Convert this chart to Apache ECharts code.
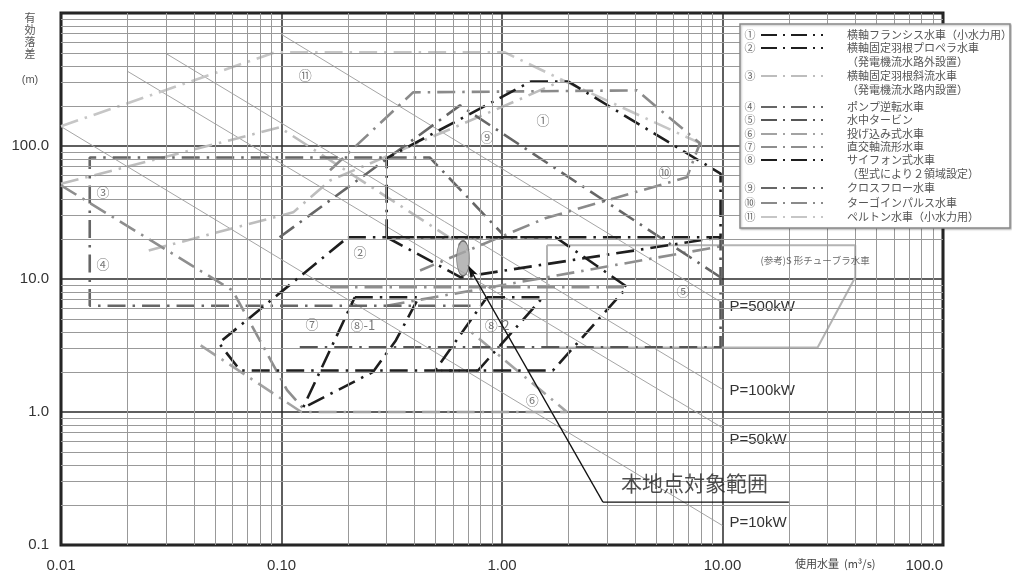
<!DOCTYPE html>
<html>
<head>
<meta charset="utf-8">
<script src="https://cdn.jsdelivr.net/npm/echarts@6/dist/echarts.min.js"></script>
<style>
html, body { margin: 0; padding: 0; background: #fff; }
#chart { width: 1012px; height: 572px; }
</style>
</head>
<body>
<div id="chart"></div>
<script>
// 目盛りラベル
const xTickLabels = ['0.01', '0.10', '1.00', '10.00', '100.0']
const yTickLabels = ['0.1', '1.0', '10.0', '100.0', '']
const minorSteps = [2, 3, 4, 5, 6, 7, 8, 9]
const xDecades = [0.01, 0.1, 1, 10]
const yDecades = [0.1, 1, 10, 100]

// 各水車の適用範囲 [Q (m3/s), H (m)]
const francis = [[0.3, 20.6], [0.3, 81], [1.35, 305], [2, 305], [9.8, 62], [9.8, 20.6], [0.3, 20.6]]
const francisLow = [[0.3, 20.6], [0.65, 10.3], [9.8, 20.6]]
const propeller = [[0.2, 20.6], [1.75, 20.6], [3.7, 8.7], [1.7, 2.05], [0.065, 2.05], [0.052, 3.3], [0.2, 20.6]]
const diagonalUpper = [[0.01, 52], [0.098, 138], [0.71, 16.4]]
const diagonalLower = [[0.025, 16.4], [0.113, 31.7], [0.166, 55], [1.17, 220], [1.89, 312]]
const pumpReverse = [[0.72, 6.3], [0.0135, 6.3], [0.0135, 82], [0.47, 82], [1.0, 22]]
const submersible = [[0.121, 3.07], [9.8, 3.07], [9.8, 20.6]]
const dropIn = [[0.043, 3.17], [0.123, 1.0], [1.97, 1.0], [0.71, 4.1]]
const orthoAxial = [[0.01, 50.6], [0.06, 8.2], [0.106, 1.46], [0.125, 1.07]]
const orthoAxialTop = [[0.3, 6.3], [9.8, 17.6]]
const orthoAxialMid = [[0.166, 8.66], [3.69, 8.66]]
const siphon1 = [[0.215, 7.3], [0.42, 7.3], [0.33, 3.45], [0.26, 2.0], [0.125, 1.07], [0.215, 7.3]]
const siphon2 = [[0.855, 7.3], [1.535, 7.3], [0.778, 2.05], [0.497, 2.05], [0.855, 7.3]]
const crossFlow = [[0.098, 20.6], [0.645, 202], [9.8, 10.3]]
const turgo = [[0.166, 65.7], [0.395, 253], [4.09, 262], [7.9, 105], [6.9, 58.2], [1.57, 28.6], [0.425, 11.6]]
const pelton = [[0.01, 141], [0.0934, 506], [1.03, 506], [1.89, 312], [7.9, 105]]
const sTubular = [[1.6, 17.9], [40, 17.9], [40, 10.3], [27, 3.05], [1.6, 3.05], [1.6, 17.9]]

// 出力線
const powerNames = ['P=500kW', 'P=100kW', 'P=50kW', 'P=10kW']
const p500kW = [[0.1, 690], [10, 6.6]]
const p100kW = [[0.03, 495], [10, 1.48]]
const p50kW = [[0.02, 365], [10, 0.76]]
const p10kW = [[0.01, 140], [10, 0.14]]

// 図中の番号
const markNames = ['⑪', '①', '⑨', '⑩', '③', '④', '②', '⑦', '⑧-1', '⑧-2', '⑤', '⑥']
const markQ = [0.128, 1.535, 0.855, 5.48, 0.0155, 0.0155, 0.227, 0.1375, 0.234, 0.95, 6.62, 1.37]
const markH = [340, 156, 116, 63.4, 44.9, 12.9, 15.9, 4.56, 4.5, 4.5, 8.08, 1.22]

// 本地点
const siteRange = [[0.666, 14.3]]
const leaderLine = [[20, 0.21], [2.87, 0.21]]
const arrowTip = [0.70, 12.7]
const siteLabelAt = [7.47, 0.29]
const tubularLabelAt = [26.3, 13.8]

const legendRows = [
  ['①', '横軸フランシス水車（小水力用）'],
  ['②', '横軸固定羽根プロペラ水車'],
  ['', '（発電機流水路外設置）'],
  ['③', '横軸固定羽根斜流水車'],
  ['', '（発電機流水路内設置）'],
  ['④', 'ポンプ逆転水車'],
  ['⑤', '水中タービン'],
  ['⑥', '投げ込み式水車'],
  ['⑦', '直交軸流形水車'],
  ['⑧', 'サイフォン式水車'],
  ['', '（型式により２領域設定）'],
  ['⑨', 'クロスフロー水車'],
  ['⑩', 'ターゴインパルス水車'],
  ['⑪', 'ペルトン水車（小水力用）']
]
const legendRowY = [35, 48, 62, 76, 90, 107, 120, 134, 147, 160, 174, 188, 203, 217]

const regionColor = {
  '①': '#1e1e1e', '②': '#1e1e1e', '③': '#bdbdbd', '④': '#666', '⑤': '#555', '⑥': '#a3a3a3',
  '⑦': '#8e8e8e', '⑧': '#1e1e1e', '⑨': '#666', '⑩': '#8a8a8a', '⑪': '#c6c6c6'
}
const regions = [
  { mark: '⑪', lines: [pelton] },
  { mark: '③', lines: [diagonalUpper, diagonalLower] },
  { mark: '⑥', lines: [dropIn] },
  { mark: '⑦', lines: [orthoAxial, orthoAxialTop, orthoAxialMid] },
  { mark: '⑩', lines: [turgo] },
  { mark: '④', lines: [pumpReverse] },
  { mark: '⑤', lines: [submersible] },
  { mark: '⑨', lines: [crossFlow] },
  { mark: '②', lines: [propeller] },
  { mark: '⑧', lines: [siphon1, siphon2] },
  { mark: '①', lines: [francis, francisLow] }
]

const dash = [18, 7, 2.5, 7]
const jpFont = '"Noto Sans CJK JP", sans-serif'
const numFont = '"Liberation Sans", Arial, sans-serif'

const minorX = xDecades.flatMap(d => minorSteps.map(s => +(d * s).toPrecision(3)))
const minorY = yDecades.flatMap(d => minorSteps.map(s => +(d * s).toPrecision(3)))

const series = []

// 補助目盛線
series.push({
  type: 'line',
  data: [],
  silent: true,
  z: 1,
  markLine: {
    silent: true,
    symbol: 'none',
    animation: false,
    label: { show: false },
    emphasis: { disabled: true },
    lineStyle: { color: '#999', width: 1, type: 'solid' },
    data: minorX.map(v => ({ xAxis: v })).concat(minorY.map(v => ({ yAxis: v })))
  }
})

const powerLines = [p500kW, p100kW, p50kW, p10kW]
const powerLabelShift = [4, 2, 12, -3]
powerLines.forEach((pts, i) => {
  series.push({
    type: 'line',
    data: pts,
    symbol: 'none',
    silent: true,
    z: 2,
    lineStyle: { color: '#a5a5a5', width: 1 },
    endLabel: {
      show: true,
      formatter: () => powerNames[i],
      distance: 5,
      offset: [0, powerLabelShift[i]],
      fontSize: 15,
      color: '#333',
      fontFamily: numFont,
      backgroundColor: '#fff',
      padding: [1, 2]
    }
  })
})

series.push({
  type: 'line',
  data: sTubular,
  symbol: 'none',
  silent: true,
  z: 3,
  lineStyle: { color: '#b4b4b4', width: 2 }
})

regions.forEach(r => {
  r.lines.forEach(pts => {
    series.push({
      type: 'line',
      data: pts,
      symbol: 'none',
      silent: true,
      z: 4,
      lineStyle: { color: regionColor[r.mark], width: 2.6, type: dash }
    })
  })
})

series.push({
  type: 'scatter',
  data: markQ.map((q, i) => ({ value: [q, markH[i]], name: markNames[i] })),
  symbolSize: 1,
  silent: true,
  z: 5,
  itemStyle: { color: 'rgba(0,0,0,0)' },
  label: {
    show: true,
    position: 'inside',
    formatter: p => p.name,
    fontSize: 13,
    color: '#555',
    fontFamily: jpFont
  }
})

series.push({
  type: 'scatter',
  data: [{ value: tubularLabelAt, name: '(参考)S 形チューブラ水車' }],
  symbolSize: 1,
  silent: true,
  z: 5,
  itemStyle: { color: 'rgba(0,0,0,0)' },
  label: { show: true, position: 'inside', formatter: p => p.name, fontSize: 9.5, color: '#444', fontFamily: jpFont }
})

series.push({
  type: 'scatter',
  data: siteRange,
  symbol: 'circle',
  symbolSize: [13, 35],
  silent: true,
  z: 6,
  itemStyle: { color: '#a6a6a6', borderColor: '#555', borderWidth: 1 }
})

series.push({
  type: 'line',
  data: leaderLine,
  symbol: 'none',
  silent: true,
  z: 6,
  lineStyle: { color: '#111', width: 1.3 },
  markLine: {
    silent: true,
    animation: false,
    symbol: ['none', 'arrow'],
    symbolSize: [6, 13],
    label: { show: false },
    lineStyle: { color: '#111', width: 1.3, type: 'solid' },
    data: [[{ coord: leaderLine[1] }, { coord: arrowTip }]]
  }
})

series.push({
  type: 'scatter',
  data: [{ value: siteLabelAt, name: '本地点対象範囲' }],
  symbolSize: 1,
  silent: true,
  z: 6,
  itemStyle: { color: 'rgba(0,0,0,0)' },
  label: { show: true, position: 'inside', formatter: p => p.name, fontSize: 21, color: '#222', fontFamily: jpFont }
})

// 凡例
const legendEls = [{
  type: 'rect',
  shape: { x: 740, y: 24, width: 270, height: 204 },
  style: { fill: '#fff', stroke: '#8a8a8a', lineWidth: 1.5, shadowBlur: 2, shadowColor: 'rgba(0,0,0,0.25)', shadowOffsetX: 1, shadowOffsetY: 1 },
  z: 100
}]
legendRows.forEach(([mark, text], i) => {
  const y = legendRowY[i]
  if (mark) {
    legendEls.push({
      type: 'text', z: 101,
      style: { text: mark, x: 750, y: y, fill: '#666', font: '11px ' + jpFont, textAlign: 'center', textVerticalAlign: 'middle' }
    })
    legendEls.push({
      type: 'line', z: 101,
      shape: { x1: 761, y1: y, x2: 823, y2: y },
      style: { stroke: regionColor[mark], lineWidth: 2, lineDash: [16, 6, 2, 6] }
    })
  }
  legendEls.push({
    type: 'text', z: 101,
    style: { text: text, x: 847, y: y, fill: '#555', font: '11px ' + jpFont, textVerticalAlign: 'middle' }
  })
})

const option = {
  animation: false,
  backgroundColor: '#fff',
  grid: {
    left: 61, right: 69, top: 13, bottom: 27,
    show: true,
    borderColor: '#1a1a1a',
    borderWidth: 3,
    containLabel: false,
    outerBoundsMode: 'none'
  },
  xAxis: {
    type: 'log',
    logBase: 10,
    min: 0.01,
    max: 100,
    axisLine: { show: false },
    axisTick: { show: false },
    splitLine: { show: true, lineStyle: { color: '#2a2a2a', width: 1.5 } },
    axisLabel: {
      fontSize: 15,
      color: '#333',
      fontFamily: numFont,
      margin: 13,
      alignMaxLabel: 'right',
      formatter: v => xTickLabels[Math.round(Math.log10(v)) + 2]
    }
  },
  yAxis: {
    type: 'log',
    logBase: 10,
    min: 0.1,
    max: 1000,
    axisLine: { show: false },
    axisTick: { show: false },
    splitLine: { show: true, lineStyle: { color: '#2a2a2a', width: 1.5 } },
    axisLabel: {
      fontSize: 15,
      color: '#333',
      fontFamily: numFont,
      margin: 12,
      padding: [5, 0, 0, 0],
      formatter: v => yTickLabels[Math.round(Math.log10(v)) + 1]
    }
  },
  graphic: [
    {
      type: 'text',
      style: { text: '有\n効\n落\n差', x: 30, y: 12, fill: '#555', font: '11px ' + jpFont, textAlign: 'center', lineHeight: 12 }
    },
    {
      type: 'text',
      style: { text: '(m)', x: 30, y: 80, fill: '#555', font: '11px ' + numFont, textAlign: 'center', textVerticalAlign: 'middle' }
    },
    {
      type: 'text',
      style: { text: '使用水量  (m³/s)', x: 795, y: 564, fill: '#444', font: '11px ' + jpFont, textVerticalAlign: 'middle' }
    }
  ].concat(legendEls),
  series: series
}

const chart = echarts.init(document.getElementById('chart'), null, { renderer: 'canvas' })
chart.setOption(option)
</script>
</body>
</html>
